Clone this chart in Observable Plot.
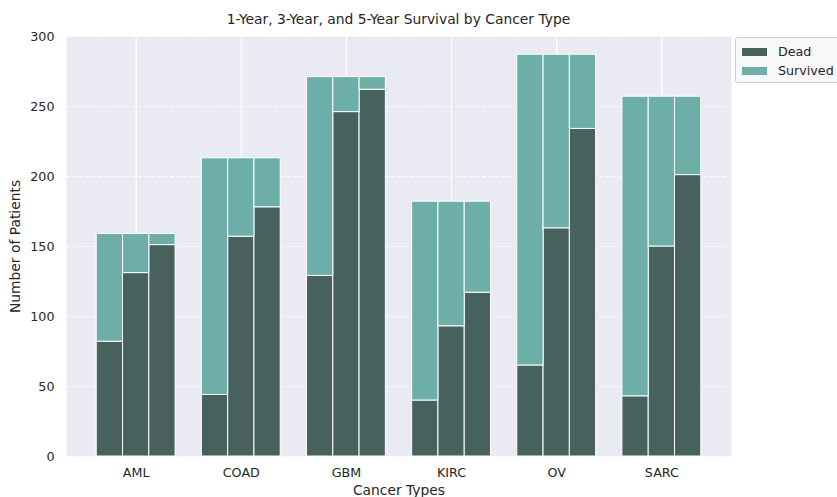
<!DOCTYPE html>
<html>
<head>
<meta charset="utf-8">
<script src="https://cdn.jsdelivr.net/npm/d3@7"></script>
<script src="https://cdn.jsdelivr.net/npm/@observablehq/plot@0.6"></script>
<style>
  html, body { margin: 0; padding: 0; background: #fff; }
  body { width: 837px; height: 497px; overflow: hidden; font-family: "DejaVu Sans", sans-serif; }
  #wrap { position: relative; width: 837px; height: 497px; }
  #title { position: absolute; left: 66px; width: 665px; top: 11px; text-align: center; font-size: 13.85px; color: #262626; line-height: 17px; }
  #chart { position: absolute; left: 0; top: 28px; }
  #legend { position: absolute; left: 735px; top: 37px; width: 110px; height: 46px; box-sizing: border-box;
            background: #f8f8f8; border: 1px solid #cfcfcf; border-radius: 3px; font-size: 12.7px; color: #262626; }
  .item { position: absolute; left: 6px; height: 15px; line-height: 15px; white-space: nowrap; }
  .sw { display: inline-block; width: 25px; height: 8px; vertical-align: middle; margin-right: 11px; position: relative; top: -1px; }
</style>
</head>
<body>
<div id="wrap">
  <div id="title"></div>
  <div id="chart"></div>
  <div id="legend"></div>
</div>
<script>
const categories = ["AML", "COAD", "GBM", "KIRC", "OV", "SARC"];
const periods = ["1-Year", "3-Year", "5-Year"];
const totals = [159, 213, 271, 182, 287, 257];
const dead1 = [82, 44, 129, 40, 65, 43];
const dead3 = [131, 157, 246, 93, 163, 150];
const dead5 = [151, 178, 262, 117, 234, 201];
const yTicks = [0, 50, 100, 150, 200, 250, 300];
const seriesNames = ["Dead", "Survived"];
const seriesColors = ["#47615c", "#6dafa8"];
const titleText = "1-Year, 3-Year, and 5-Year Survival by Cancer Type";
const xLabel = "Cancer Types";
const yLabel = "Number of Patients";

const deadByPeriod = [dead1, dead3, dead5];
const barWidth = 0.25;
const rows = [];
categories.forEach((cat, i) => {
  periods.forEach((p, j) => {
    const center = i + (j - 1) * barWidth;
    rows.push({cat, period: p, x1: center - barWidth / 2, x2: center + barWidth / 2,
               dead: deadByPeriod[j][i], total: totals[i]});
  });
});

document.getElementById("title").textContent = titleText;

const chart = Plot.plot({
  width: 837,
  height: 469,
  marginLeft: 66,
  marginRight: 106,
  marginTop: 8,
  marginBottom: 41,
  style: {fontFamily: "DejaVu Sans, sans-serif", fontSize: "12.7px", color: "#262626", background: "transparent"},
  x: {domain: [-0.6625, 5.6625]},
  y: {domain: [0, 300]},
  marks: [
    Plot.frame({fill: "#eaeaf2", stroke: "none"}),
    Plot.gridY(yTicks, {stroke: "white", strokeOpacity: 0.75, strokeWidth: 1, strokeDasharray: "4,2.5"}),
    Plot.gridX(d3.range(categories.length), {stroke: "white", strokeOpacity: 1, strokeWidth: 1.2}),
    Plot.rectY(rows, {x1: "x1", x2: "x2", y1: 0, y2: "dead", fill: seriesColors[0], stroke: "white", strokeWidth: 1}),
    Plot.rectY(rows, {x1: "x1", x2: "x2", y1: "dead", y2: "total", fill: seriesColors[1], stroke: "white", strokeWidth: 1}),
    Plot.axisX(d3.range(categories.length), {tickSize: 0, tickPadding: 11, tickFormat: i => categories[i],
      label: xLabel, labelArrow: "none", labelAnchor: "center", labelOffset: 38, fontSize: 12.7}),
    Plot.axisY(yTicks, {tickSize: 0, tickPadding: 12, label: yLabel, labelArrow: "none", labelAnchor: "center", labelOffset: 56, fontSize: 12.7})
  ]
});
document.getElementById("chart").appendChild(chart);

// axis titles: larger font, no arrows
chart.querySelectorAll("g[aria-label='x-axis label'] text, g[aria-label='y-axis label'] text").forEach(t => {
  t.setAttribute("font-size", "13.85");
  t.textContent = t.textContent.replace(/\s*[→←↑↓]\s*/g, "");
});

const legend = document.getElementById("legend");
seriesNames.forEach((name, k) => {
  const item = document.createElement("div");
  item.className = "item";
  item.style.top = (6 + k * 19) + "px";
  const sw = document.createElement("span");
  sw.className = "sw";
  sw.style.background = seriesColors[k];
  item.appendChild(sw);
  item.appendChild(document.createTextNode(name));
  legend.appendChild(item);
});
</script>
</body>
</html>
